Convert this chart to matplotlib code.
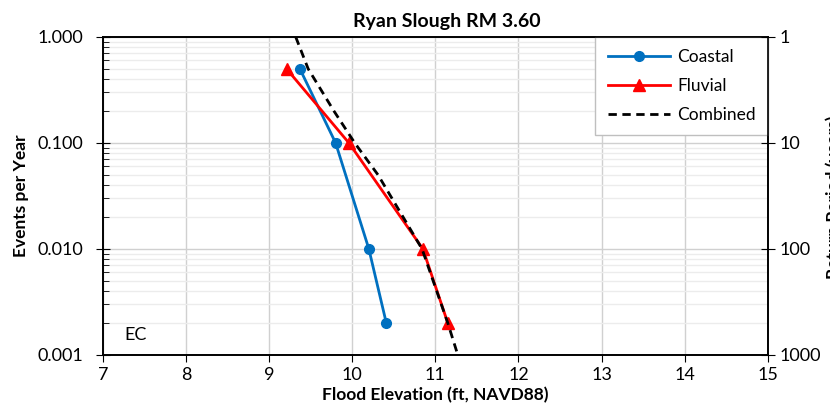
import numpy as np
import matplotlib
matplotlib.use('Agg')
import matplotlib.pyplot as plt
from matplotlib.ticker import FixedLocator, LogLocator, NullFormatter

plt.rcParams['font.family'] = ['Lato', 'DejaVu Sans']

# data
aep = [0.5, 0.1, 0.01, 0.002]
coastal = [9.37, 9.80, 10.20, 10.41]
fluvial = [9.21, 9.96, 10.85, 11.15]
comb_aep = [1.0, 0.5, 0.2, 0.1, 0.05, 0.01, 0.002, 0.001]
combined = [9.32, 9.47, 9.78, 10.03, 10.31, 10.84, 11.15, 11.27]

xticks = list(range(7, 16))
yticks = [0.001, 0.01, 0.1, 1.0]
ylabels = ['0.001', '0.010', '0.100', '1.000']
rp_ticks = [1, 10, 100, 1000]

fig = plt.figure(figsize=(8.3, 4.2), dpi=100)
ax = fig.add_axes([0.124, 0.155, 0.801, 0.757])

ax.plot(coastal, aep, color='#0070C0', lw=2, marker='o', ms=7, label='Coastal', zorder=3)
ax.plot(fluvial, aep, color='#FF0000', lw=2, marker='^', ms=8, label='Fluvial', zorder=3)
ax.plot(combined, comb_aep, color='black', lw=2, ls=(0, (3, 2)), label='Combined', zorder=4)

ax.set_yscale('log')
ax.set_xlim(7, 15)
ax.set_ylim(0.001, 1)
ax.set_xticks(xticks)
ax.set_yticks(yticks)
ax.set_yticklabels(ylabels)
ax.yaxis.set_minor_locator(LogLocator(base=10, subs=np.arange(2, 10)))
ax.yaxis.set_minor_formatter(NullFormatter())
ax.grid(True, which='major', color='#d0d0d0', lw=1)
ax.grid(True, which='minor', axis='y', color='#ececec', lw=1)
ax.set_axisbelow(True)
ax.tick_params(axis='x', which='major', direction='out', length=5, labelsize=13, color='black')
ax.tick_params(axis='y', which='major', direction='inout', length=10, labelsize=13, pad=9)
ax.tick_params(axis='y', which='minor', direction='in', length=4)
for s in ax.spines.values():
    s.set_color('black')
    s.set_linewidth(1.2)

ax.set_title('Ryan Slough RM 3.60', fontsize=14, fontweight='bold', pad=7, x=0.517)
ax.set_xlabel('Flood Elevation (ft, NAVD88)', fontsize=12.5, fontweight='bold', labelpad=3)
ax.set_ylabel('Events per Year', fontsize=12.5, fontweight='bold', labelpad=6)
ax.text(7.26, 0.00155, 'EC', fontsize=13, va='center')

leg = ax.legend(loc='upper right', fontsize=12.5, fancybox=False, edgecolor='#bfbfbf',
                framealpha=1, handlelength=3.6, borderaxespad=0.0, labelspacing=0.75,
                borderpad=0.7, handletextpad=0.4)
leg.get_frame().set_linewidth(1)

ax2 = ax.twinx()
ax2.set_yscale('log')
ax2.set_ylim(1000, 1)
ax2.yaxis.set_major_locator(FixedLocator(rp_ticks))
ax2.set_yticklabels([str(v) for v in rp_ticks])
ax2.yaxis.set_minor_locator(FixedLocator([]))
ax2.tick_params(axis='y', which='major', direction='inout', length=10, labelsize=13)
for s in ax2.spines.values():
    s.set_color('black')
    s.set_linewidth(1.2)
fig.text(0.994, 0.53, 'Return Period (years)', rotation=90, fontsize=12.5,
         fontweight='bold', ha='left', va='center')

fig.savefig('out.png', dpi=100)
